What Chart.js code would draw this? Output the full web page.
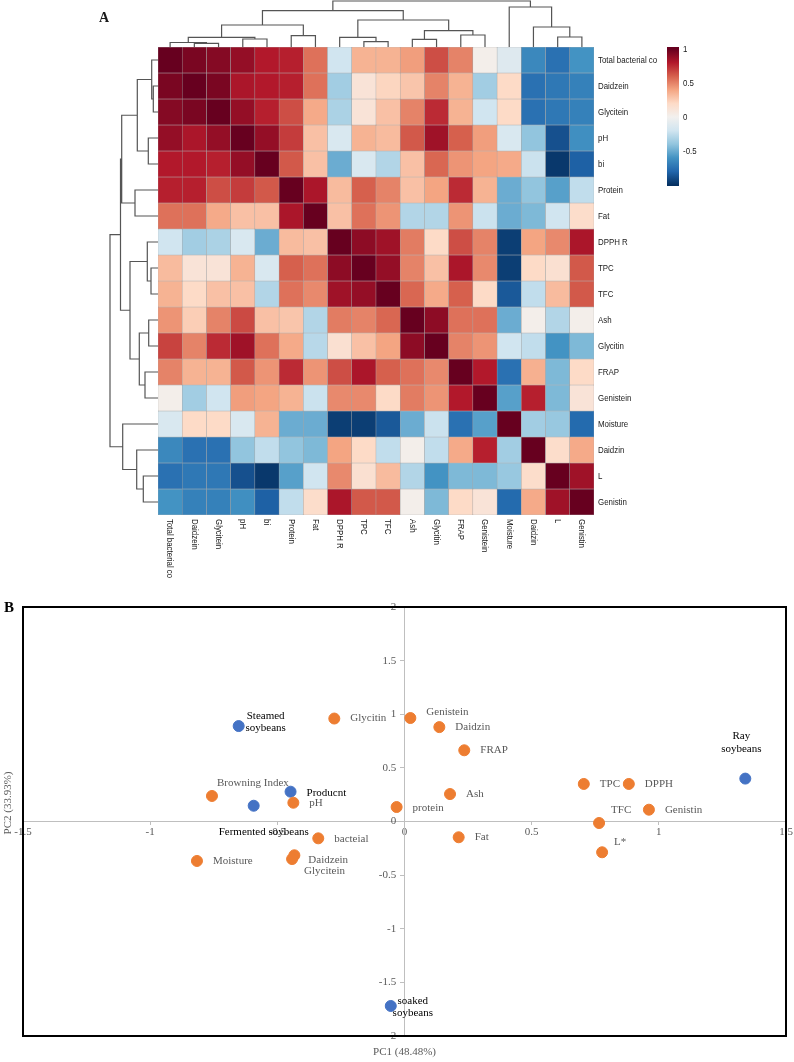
<!DOCTYPE html>
<html>
<head>
<meta charset="utf-8">
<script src="https://cdn.jsdelivr.net/npm/chart.js@4.4.1/dist/chart.umd.min.js"></script>
<style>
  body { margin: 0; background: #fff; }
  #wrap { position: relative; width: 794px; height: 1062px; }
  canvas { position: absolute; left: 0; }
  #heatmap { top: 0; }
  #pca { top: 590px; }
</style>
</head>
<body>
<div id="wrap">
  <canvas id="heatmap" width="794" height="590"></canvas>
  <canvas id="pca" width="794" height="472"></canvas>
</div>
<script>
// ---------- Panel A: correlation heatmap (rows and columns share the clustered order)
const traits = ['Total bacterial co', 'Daidzein', 'Glycitein', 'pH', 'bi', 'Protein', 'Fat', 'DPPH R', 'TPC',
  'TFC', 'Ash', 'Glycitin', 'FRAP', 'Genistein', 'Moisture', 'Daidzin', 'L', 'Genistin'];

const corrRows = [
  [1, .95, .92, .88, .8, .78, .55, -.2, .35, .35, .42, .65, .5, .02, -.12, -.65, -.75, -.6],
  [.95, 1, .95, .82, .8, .78, .55, -.35, .12, .22, .28, .5, .35, -.35, .2, -.75, -.72, -.68],
  [.92, .95, 1, .88, .78, .65, .38, -.32, .12, .3, .5, .75, .35, -.2, .2, -.75, -.72, -.68],
  [.88, .82, .88, 1, .88, .7, .3, -.15, .35, .32, .62, .85, .6, .42, -.15, -.4, -.88, -.62],
  [.8, .8, .78, .88, 1, .62, .3, -.5, -.15, -.3, .3, .58, .45, .4, .38, -.22, -.97, -.82],
  [.78, .78, .65, .7, .62, 1, .82, .32, .6, .5, .3, .4, .75, .35, -.5, -.4, -.55, -.25],
  [.55, .55, .38, .3, .3, .82, 1, .3, .55, .45, -.3, -.3, .45, -.22, -.5, -.45, -.2, .18],
  [-.2, -.35, -.32, -.15, -.5, .32, .3, 1, .9, .85, .52, .2, .65, .5, -.95, .4, .48, .82],
  [.32, .12, .12, .35, -.15, .6, .55, .9, 1, .88, .5, .3, .82, .48, -.95, .2, .15, .62],
  [.35, .2, .3, .3, -.3, .55, .48, .85, .88, 1, .58, .38, .6, .2, -.85, -.25, .32, .62],
  [.45, .25, .5, .66, .3, .28, -.3, .52, .5, .58, 1, .9, .55, .55, -.5, .02, -.3, .02],
  [.68, .5, .75, .85, .55, .38, -.28, .15, .3, .4, .9, 1, .5, .45, -.2, -.25, -.6, -.45],
  [.5, .35, .35, .62, .45, .75, .45, .65, .82, .6, .55, .48, 1, .8, -.75, .36, -.45, .2],
  [.02, -.35, -.2, .42, .4, .35, -.22, .48, .48, .2, .52, .45, .8, 1, -.55, .78, -.45, .12],
  [-.15, .2, .2, -.15, .35, -.5, -.5, -.95, -.95, -.85, -.5, -.22, -.75, -.55, 1, -.35, -.38, -.78],
  [-.65, -.75, -.75, -.4, -.25, -.4, -.45, .4, .2, -.25, .02, -.25, .38, .78, -.35, 1, .18, .38],
  [-.75, -.72, -.72, -.88, -.97, -.55, -.2, .48, .15, .32, -.3, -.6, -.45, -.45, -.38, .18, 1, .85],
  [-.6, -.68, -.68, -.62, -.82, -.25, .18, .82, .62, .62, .02, -.45, .2, .12, -.78, .38, .85, 1]
];

// merges: [left, right, height]; ids >= 18 point at earlier merges (scipy style)
const colMerges = [
  [1, 2, 3.7], [0, 18, 4.5], [3, 4, 8], [19, 20, 9.7], [5, 6, 11.3], [21, 22, 22],
  [8, 9, 5.3], [7, 24, 9.7], [10, 11, 7.7], [12, 13, 12], [26, 27, 16.3], [25, 28, 27],
  [23, 29, 36.3], [16, 17, 10], [15, 31, 20], [14, 32, 40], [30, 33, 46]
];
const rowMerges = [
  [1, 2, 4.7], [0, 18, 6.3], [3, 4, 9.7], [19, 20, 20.7], [5, 6, 23], [21, 22, 36.3],
  [8, 9, 7], [7, 24, 10.7], [10, 11, 9.3], [12, 13, 13], [26, 27, 18.7], [25, 28, 28],
  [23, 29, 37.5], [16, 17, 14.7], [15, 31, 21.3], [14, 32, 35.3], [30, 33, 48]
];
const legendTicks = [1, 0.5, 0, -0.5];

// ---------- Panel B: PCA biplot
const varNames = ['Glycitin', 'Genistein', 'Daidzin', 'FRAP', 'Browning Index', 'pH', 'protein', 'Ash', 'TPC',
  'DPPH', 'Genistin', 'TFC', 'L*', 'Fat', 'bacteial', 'Moisture', 'Daidzein', 'Glycitein'];
const varPC1 = [-0.276, 0.023, 0.137, 0.235, -0.757, -0.437, -0.031, 0.179, 0.705,
  0.882, 0.961, 0.765, 0.777, 0.213, -0.339, -0.816, -0.433, -0.442];
const varPC2 = [0.96, 0.965, 0.88, 0.664, 0.238, 0.175, 0.135, 0.256, 0.35,
  0.35, 0.11, -0.014, -0.287, -0.147, -0.157, -0.368, -0.315, -0.35];

const sampleNames = ['Steamed\nsoybeans', 'Producnt', 'Fermented soybeans', 'Ray\nsoybeans', 'soaked\nsoybeans'];
const samplePC1 = [-0.652, -0.448, -0.593, 1.34, -0.054];
const samplePC2 = [0.89, 0.278, 0.147, 0.40, -1.72];

// label placement relative to the dot, in px (layout only)
const varLabelOffsets = [[16, 0], [16, -6], [16, 0], [16, 0], [5, -13], [16, 0], [16, 1], [16, 0], [16, 0],
  [16, 0], [16, 0], [12, -13], [12, -10.5], [16, 0], [16, 1], [16, 0], [14, 5], [12, 12]];
const sampleLabelOffsets = [[27, -10, 'center'], [16, 1, 'left'], [-35, 26, 'left'], [-4, -42, 'center'], [22, -5.3, 'center']];

// ---------- colours
const rdbu = ['#053061', '#2166ac', '#4393c3', '#92c5de', '#d1e5f0', '#f2f0ee',
  '#fddbc7', '#f4a582', '#d6604d', '#b2182b', '#67001f'];
const rdbuRgb = rdbu.map(h => [1, 3, 5].map(i => parseInt(h.substr(i, 2), 16)));

function corrColor(v) {
  const t = Math.max(0, Math.min(1, (v + 1) / 2)) * (rdbu.length - 1);
  const i = Math.min(Math.floor(t), rdbu.length - 2);
  const f = t - i;
  const a = rdbuRgb[i], b = rdbuRgb[i + 1];
  const c = a.map((x, k) => Math.round(x + (b[k] - x) * f));
  return `rgb(${c[0]},${c[1]},${c[2]})`;
}

const labelFont = '9.5px "Liberation Sans", Arial, sans-serif';
const labelSquash = 0.83; // the heatmap labels are set in a narrow face
const serif = '"Liberation Serif", "Times New Roman", serif';

// draws a dendrogram; leafPos are pixel centres, base is the heatmap edge, span the px for the tallest merge
function drawDendro(ctx, merges, leafPos, base, span, vertical) {
  const maxH = Math.max(...merges.map(m => m[2]));
  const pos = leafPos.slice();
  const hgt = leafPos.map(() => 0);
  const toPix = h => base - h / maxH * span;
  ctx.beginPath();
  merges.forEach(([a, b, h]) => {
    const pts = [[pos[a], hgt[a]], [pos[a], h], [pos[b], h], [pos[b], hgt[b]]];
    pts.forEach(([p, hh], k) => {
      const px = vertical ? p : toPix(hh);
      const py = vertical ? toPix(hh) : p;
      if (k === 0) ctx.moveTo(px, py); else ctx.lineTo(px, py);
    });
    pos.push((pos[a] + pos[b]) / 2);
    hgt.push(h);
  });
  ctx.stroke();
}

function narrowText(ctx, text, x, y, angle) {
  ctx.save();
  ctx.translate(x, y);
  if (angle) ctx.rotate(angle);
  ctx.scale(labelSquash, 1);
  ctx.fillText(text, 0, 0);
  ctx.restore();
}

const heatExtras = {
  id: 'heatExtras',
  afterDraw(chart) {
    const ctx = chart.ctx;
    const area = chart.chartArea;
    const xs = chart.scales.x, ys = chart.scales.y;
    const colCentres = traits.map((t, i) => xs.getPixelForValue(i));
    const rowCentres = traits.map((t, i) => ys.getPixelForValue(i + 0.5));

    ctx.save();
    ctx.strokeStyle = '#555';
    ctx.lineWidth = 1.2;
    drawDendro(ctx, colMerges, colCentres, area.top, 46, true);
    drawDendro(ctx, rowMerges, rowCentres, area.left, 48, false);

    // row names on the right, column names rotated below
    ctx.fillStyle = '#1a1a1a';
    ctx.font = labelFont;
    ctx.textAlign = 'left';
    ctx.textBaseline = 'middle';
    traits.forEach((t, i) => narrowText(ctx, t, area.right + 4, rowCentres[i]));
    traits.forEach((t, i) => narrowText(ctx, t, colCentres[i], area.bottom + 4, Math.PI / 2));

    // colour legend
    const lx = area.right + 73, lTop = area.top, lBot = area.top + 139;
    const vToY = v => lTop + 2 + (1 - v) * 68;
    const grad = ctx.createLinearGradient(0, vToY(-1), 0, vToY(1));
    rdbu.forEach((c, i) => grad.addColorStop(i / (rdbu.length - 1), c));
    ctx.fillStyle = grad;
    ctx.fillRect(lx, lTop, 12, lBot - lTop);
    ctx.fillStyle = '#1a1a1a';
    legendTicks.forEach(v => narrowText(ctx, String(v), lx + 16, vToY(v)));

    // panel letter
    ctx.font = 'bold 14px ' + serif;
    ctx.fillText('A', 99, 18);
    ctx.restore();
  }
};

new Chart(document.getElementById('heatmap'), {
  type: 'bar',
  data: {
    labels: traits,
    datasets: corrRows.map((row, r) => ({
      label: traits[r],
      data: row.map(() => 1),
      backgroundColor: row.map(corrColor),
      borderColor: '#a4a4a4',
      borderWidth: 0.5,
      borderSkipped: false,
      barPercentage: 1,
      categoryPercentage: 1
    }))
  },
  options: {
    responsive: false,
    animation: false,
    events: [],
    layout: { padding: { left: 158, top: 47, right: 200, bottom: 75 } },
    plugins: { legend: { display: false }, tooltip: { enabled: false } },
    scales: {
      x: { stacked: true, display: false },
      y: { stacked: true, display: false, min: 0, max: traits.length, reverse: true }
    }
  },
  plugins: [heatExtras]
});

// ---------- Panel B chart
const pcaExtras = {
  id: 'pcaExtras',
  afterDatasetsDraw(chart) {
    const ctx = chart.ctx;
    ctx.save();
    ctx.font = '11px ' + serif;
    ctx.textBaseline = 'middle';
    chart.data.datasets.forEach((ds, di) => {
      chart.getDatasetMeta(di).data.forEach((pt, i) => {
        const [dx, dy, align] = ds.labelOffsets[i];
        ctx.fillStyle = ds.labelColor;
        ctx.textAlign = align || 'left';
        ds.names[i].split('\n').forEach((line, k) => ctx.fillText(line, pt.x + dx, pt.y + dy + k * 12.4));
      });
    });
    ctx.restore();
  },
  afterDraw(chart) {
    const ctx = chart.ctx;
    const a = chart.chartArea;
    ctx.save();
    ctx.strokeStyle = '#000';
    ctx.lineWidth = 2;
    ctx.strokeRect(a.left, a.top, a.right - a.left, a.bottom - a.top);
    ctx.fillStyle = '#595959';
    ctx.font = '11px ' + serif;
    ctx.textAlign = 'center';
    ctx.textBaseline = 'middle';
    ctx.fillText('PC1 (48.48%)', chart.scales.x.getPixelForValue(0), a.bottom + 16);
    ctx.translate(8, 213);
    ctx.rotate(-Math.PI / 2);
    ctx.fillText('PC2 (33.93%)', 0, 0);
    ctx.restore();
    ctx.save();
    ctx.fillStyle = '#000';
    ctx.font = 'bold 15px ' + serif;
    ctx.textBaseline = 'middle';
    ctx.fillText('B', 4, 18);
    ctx.restore();
  }
};

const tickFont = { family: serif, size: 11 };

new Chart(document.getElementById('pca'), {
  type: 'scatter',
  data: {
    datasets: [
      {
        label: 'Variables',
        data: varNames.map((n, i) => ({ x: varPC1[i], y: varPC2[i] })),
        names: varNames,
        labelOffsets: varLabelOffsets,
        labelColor: '#595959',
        backgroundColor: '#ED7D31',
        borderColor: '#ED7D31',
        pointRadius: 5.5
      },
      {
        label: 'Samples',
        data: sampleNames.map((n, i) => ({ x: samplePC1[i], y: samplePC2[i] })),
        names: sampleNames,
        labelOffsets: sampleLabelOffsets,
        labelColor: '#000',
        backgroundColor: '#4472C4',
        borderColor: '#4472C4',
        pointRadius: 5.5
      }
    ]
  },
  options: {
    responsive: false,
    animation: false,
    events: [],
    layout: { padding: { left: 23, right: 8, top: 17, bottom: 26 } },
    plugins: { legend: { display: false }, tooltip: { enabled: false } },
    scales: {
      x: {
        type: 'linear', min: -1.5, max: 1.5,
        position: { y: 0 },
        afterFit: s => { s.height = 0; },
        ticks: { stepSize: 0.5, font: tickFont, color: '#595959', padding: 1, autoSkip: false, maxRotation: 0,
          callback: v => String(v) },
        grid: { drawOnChartArea: false, color: '#bfbfbf', tickLength: 3 },
        border: { color: '#bfbfbf' }
      },
      y: {
        type: 'linear', min: -2, max: 2,
        position: { x: 0 },
        afterFit: s => { s.width = 0; },
        // labels on a value-positioned y axis sit flush on the line, so pad them with spaces
        ticks: { stepSize: 0.5, font: tickFont, color: '#595959', autoSkip: false,
          callback: v => String(v) + '   ' },
        grid: { drawOnChartArea: false, color: '#bfbfbf', tickLength: 4 },
        border: { color: '#bfbfbf' }
      }
    }
  },
  plugins: [pcaExtras]
});
</script>
</body>
</html>
